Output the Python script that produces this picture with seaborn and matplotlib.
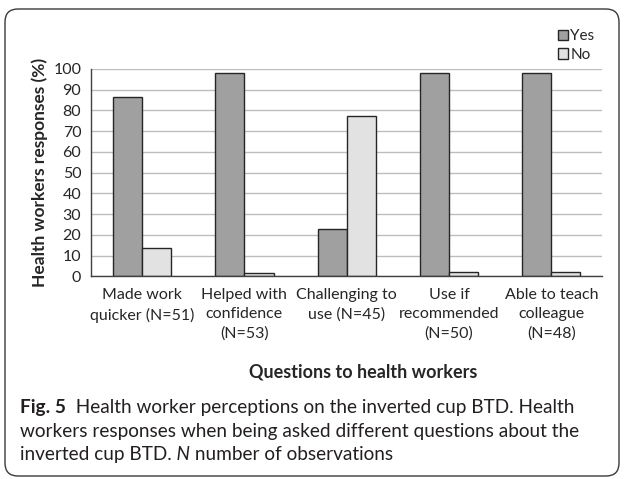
import numpy as np
import pandas as pd
import matplotlib
matplotlib.use("Agg")
import matplotlib.pyplot as plt
import seaborn as sns
from matplotlib.patches import FancyBboxPatch, Patch

# chart values
questions = [
    "Made work\nquicker (N=51)",
    "Helped with\nconfidence\n(N=53)",
    "Challenging to\nuse (N=45)",
    "Use if\nrecommended\n(N=50)",
    "Able to teach\ncolleague\n(N=48)",
]
yes_pct = [86.3, 98.1, 22.7, 98.0, 97.9]
no_pct = [13.7, 1.9, 77.3, 2.0, 2.1]
answers = ["Yes", "No"]
y_ticks = list(range(0, 101, 10))


def build_frame():
    rows = []
    for q, y, n in zip(questions, yes_pct, no_pct):
        rows.append({"question": q, "answer": "Yes", "pct": y})
        rows.append({"question": q, "answer": "No", "pct": n})
    return pd.DataFrame(rows)


def main():
    sns.set_style("white")
    plt.rcParams["font.family"] = ["Lato", "DejaVu Sans"]

    df = build_frame()
    colors = {"Yes": "#a0a0a0", "No": "#e2e2e2"}

    fig = plt.figure(figsize=(6.24, 4.79), dpi=100)
    ax = fig.add_axes([0.1458, 0.4228, 0.8197, 0.4332])

    sns.barplot(data=df, x="question", y="pct", hue="answer", order=questions,
                hue_order=answers, palette=colors, saturation=1, width=0.57,
                edgecolor="#262626", linewidth=1.0, ax=ax, legend=False)

    ax.set_xlim(-0.5, len(questions) - 0.5)
    ax.set_ylim(0, 100)
    ax.set_yticks(y_ticks)
    ax.set_yticklabels([str(t) for t in y_ticks], fontsize=11.5)
    ax.yaxis.grid(True, color="#bdbdbd", linewidth=1.0)
    ax.set_axisbelow(True)

    # category labels without tick marks, ticks between categories
    ax.tick_params(axis="x", which="major", length=0, pad=8, labelsize=11.5)
    ax.set_xticks(np.arange(-0.5, len(questions)), minor=True)
    ax.tick_params(axis="x", which="minor", length=4, width=1, color="#404040", direction="out")
    ax.tick_params(axis="y", length=3, width=1, color="#404040", direction="out", pad=4)
    for lab in ax.get_xticklabels():
        lab.set_linespacing(1.5)

    for side in ["top", "right"]:
        ax.spines[side].set_visible(False)
    for side in ["left", "bottom"]:
        ax.spines[side].set_color("#404040")
        ax.spines[side].set_linewidth(1.0)

    ax.set_xlabel("")
    ax.set_ylabel("Health workers responses (%)", fontsize=12.5, fontweight="bold")
    ax.yaxis.set_label_coords(-0.084, 0.5)

    fig.text(0.582, 0.223, "Questions to health workers", ha="center", va="center",
             fontsize=13, fontweight="bold")

    handles = [Patch(facecolor=colors[a], edgecolor="#262626", linewidth=1.0, label=a)
               for a in answers]
    fig.legend(handles=handles, loc="upper left", bbox_to_anchor=(0.884, 0.952),
               frameon=False, fontsize=11, handlelength=0.68, handleheight=0.68,
               handletextpad=0.15, labelspacing=0.3, borderaxespad=0)

    # caption with mixed weights
    cap_size = 13.7
    cap_color = "#231f20"
    t1 = fig.text(0.032, 0.137, "Fig. 5", fontsize=cap_size, fontweight="bold", color=cap_color)
    ax.annotate("  Health worker perceptions on the inverted cup BTD. Health",
                xy=(1, 0), xycoords=t1, va="bottom", fontsize=cap_size, color=cap_color,
                annotation_clip=False)
    fig.text(0.032, 0.087, "workers responses when being asked different questions about the",
             fontsize=cap_size, color=cap_color)
    t3 = fig.text(0.032, 0.039, "inverted cup BTD.", fontsize=cap_size, color=cap_color)
    t4 = ax.annotate(" N", xy=(1, 0), xycoords=t3, va="bottom", fontsize=cap_size,
                     style="italic", color=cap_color, annotation_clip=False)
    ax.annotate(" number of observations", xy=(1, 0), xycoords=t4, va="bottom",
                fontsize=cap_size, color=cap_color, annotation_clip=False)

    frame = FancyBboxPatch((0.05, 0.03), 6.14, 4.67,
                           boxstyle="round,pad=0,rounding_size=0.13",
                           transform=fig.dpi_scale_trans, facecolor="none",
                           edgecolor="#3a3a3a", linewidth=1.0)
    fig.patches.append(frame)

    fig.savefig("out.png", dpi=100)


if __name__ == "__main__":
    main()
